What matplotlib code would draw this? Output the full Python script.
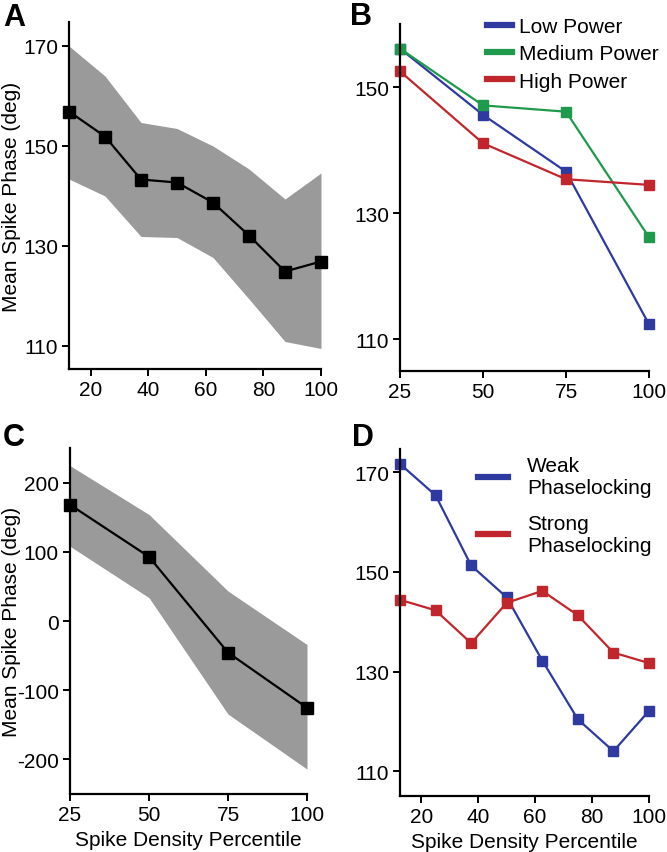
import matplotlib
matplotlib.use("Agg")
import matplotlib.pyplot as plt
from matplotlib.lines import Line2D

plt.rcParams['font.family'] = ['Liberation Sans', 'DejaVu Sans']
plt.rcParams['axes.unicode_minus'] = False

# Panel A
a_x = [12.5, 25, 37.5, 50, 62.5, 75, 87.5, 100]
a_mean = [156.9, 151.9, 143.3, 142.7, 138.7, 132.1, 124.9, 126.9]
a_upper = [170.0, 164.0, 154.7, 153.5, 150.0, 145.4, 139.4, 144.6]
a_lower = [143.4, 140.0, 131.9, 131.7, 127.7, 119.4, 110.9, 109.5]

# Panel B
b_x = [25, 50, 75, 100]
b_low = [156.1, 145.6, 136.6, 112.4]
b_medium = [156.1, 147.1, 146.1, 126.2]
b_high = [152.5, 141.1, 135.4, 134.5]

# Panel C
c_x = [25, 50, 75, 100]
c_mean = [168, 92.8, -45.6, -125.4]
c_upper = [224.5, 153.9, 43.3, -34]
c_lower = [108, 33.7, -134.5, -214]

# Panel D
d_x = [12.5, 25, 37.5, 50, 62.5, 75, 87.5, 100]
d_weak = [171.7, 165.4, 151.3, 144.9, 132.2, 120.4, 114.0, 122.1]
d_strong = [144.4, 142.3, 135.7, 143.8, 146.2, 141.3, 133.8, 131.7]

ticks_a = [20, 40, 60, 80, 100]
ticks_b = [25, 50, 75, 100]
yt_ad = [110, 130, 150, 170]
yt_b = [110, 130, 150]
yt_c = [-200, -100, 0, 100, 200]

BLUE = '#2e3a9f'
GREEN = '#1f9a4c'
RED = '#c0262c'
GRAY = '#9a9a9a'
FS = 15

W, H = 667, 853
fig = plt.figure(figsize=(W / 100, H / 100), dpi=100)


def make_ax(l, r, t, b):
    return fig.add_axes([l / W, 1 - b / H, (r - l) / W, (b - t) / H])


def style(ax):
    for s in ['top', 'right']:
        ax.spines[s].set_visible(False)
    for s in ['left', 'bottom']:
        ax.spines[s].set_linewidth(1.6)
        ax.spines[s].set_color('black')
    ax.tick_params(direction='out', length=5, width=1.4, labelsize=FS, pad=3)


axA = make_ax(69, 321, 23, 370)
axB = make_ax(400, 649, 25, 372)
axC = make_ax(70, 307, 449, 795)
axD = make_ax(400, 649, 450, 797)

# A
axA.fill_between(a_x, a_lower, a_upper, color=GRAY, lw=0)
axA.plot(a_x, a_mean, color='black', lw=1.6, marker='s', ms=8, mfc='black', mec='black')
axA.set_xlim(12.5, 100)
axA.set_ylim(105.4, 174.8)
axA.set_xticks(ticks_a)
axA.set_yticks(yt_ad)
axA.set_ylabel('Mean Spike Phase (deg)', fontsize=FS)
axA.yaxis.set_label_coords((21 - 69) / 252, 0.5)
style(axA)

# B
axB.plot(b_x, b_low, color=BLUE, lw=1.6, marker='s', ms=7.5, label='Low Power')
axB.plot(b_x, b_medium, color=GREEN, lw=1.6, marker='s', ms=7.5, label='Medium Power')
axB.plot(b_x, b_high, color=RED, lw=1.6, marker='s', ms=7.5, label='High Power')
axB.set_xlim(25, 100)
axB.set_ylim(105, 160)
axB.set_xticks(ticks_b)
axB.set_yticks(yt_b)
style(axB)
for ln in axB.lines:
    ln.set_clip_on(False)
handles_b = [Line2D([], [], color=c, lw=4.5) for c in (BLUE, GREEN, RED)]
fig.legend(handles_b, ['Low Power', 'Medium Power', 'High Power'],
           loc='upper left', bbox_to_anchor=(487 / W, 1 - 18 / H), frameon=False,
           fontsize=FS, handlelength=1.2, handletextpad=0.35, labelspacing=0.4,
           borderaxespad=0, borderpad=0)

# C
axC.fill_between(c_x, c_lower, c_upper, color=GRAY, lw=0)
axC.plot(c_x, c_mean, color='black', lw=1.6, marker='s', ms=8, mfc='black', mec='black')
axC.set_xlim(25, 100)
axC.set_ylim(-250, 250)
axC.set_xticks(ticks_b)
axC.set_yticks(yt_c)
axC.set_ylabel('Mean Spike Phase (deg)', fontsize=FS)
axC.yaxis.set_label_coords((21 - 70) / 237, 0.5)
axC.set_xlabel('Spike Density Percentile', fontsize=FS, labelpad=4)
style(axC)
for ln in axC.lines:
    ln.set_clip_on(False)

# D
axD.plot(d_x, d_weak, color=BLUE, lw=1.6, marker='s', ms=7.5)
axD.plot(d_x, d_strong, color=RED, lw=1.6, marker='s', ms=7.5)
axD.set_xlim(12.5, 100)
axD.set_ylim(105, 174.7)
axD.set_xticks(ticks_a)
axD.set_yticks(yt_ad)
axD.set_xlabel('Spike Density Percentile', fontsize=FS, labelpad=4)
style(axD)
for ln in axD.lines + axA.lines:
    ln.set_clip_on(False)
handles_d = [Line2D([], [], color=c, lw=4.5) for c in (BLUE, RED)]
fig.legend(handles_d, ['Weak\nPhaselocking', 'Strong\nPhaselocking'],
           loc='upper left', bbox_to_anchor=(478 / W, 1 - 457 / H), frameon=False,
           fontsize=FS, handlelength=1.45, handletextpad=0.9, labelspacing=0.8,
           borderaxespad=0, borderpad=0)

for letter, (x, y) in zip('ABCD', [(3, 3), (350, 2), (3, 423), (352, 423)]):
    fig.text(x / W, 1 - y / H, letter, fontsize=22, fontweight='bold', va='top', ha='left')

fig.savefig('out.png', dpi=100)
